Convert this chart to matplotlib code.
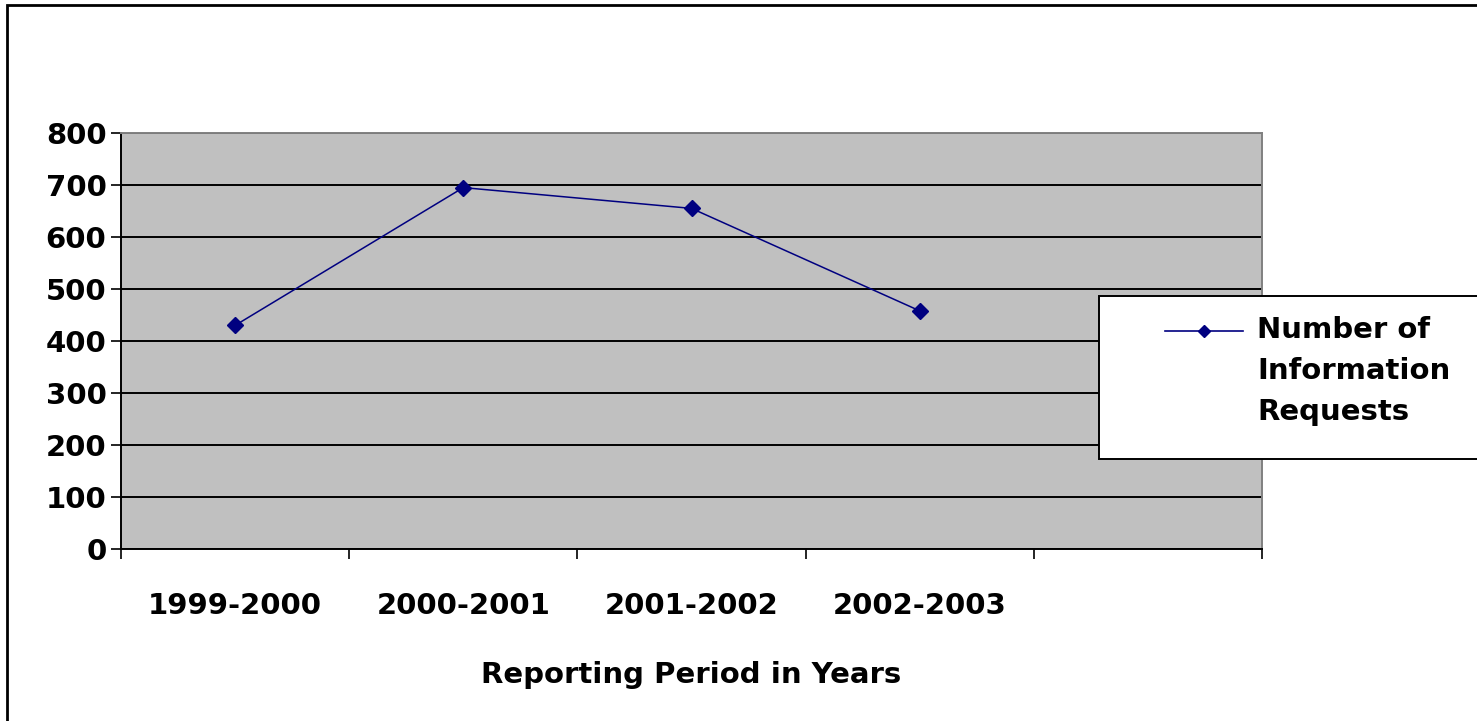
import matplotlib
matplotlib.use("Agg")
import matplotlib.pyplot as plt
import numpy as np
from matplotlib.lines import Line2D
from matplotlib.patches import Rectangle

categories = ["1999-2000", "2000-2001", "2001-2002", "2002-2003"]
requests = [430, 695, 655, 458]
series_name = "Number of\nInformation\nRequests"
y_ticks = [0, 100, 200, 300, 400, 500, 600, 700, 800]
x_title = "Reporting Period in Years"

W, H = 1477, 721
fig = plt.figure(figsize=(W / 100, H / 100), dpi=100)
fig.patch.set_facecolor("white")

def fx(px):
    return px / W

def fy(py):
    return 1 - py / H

ax = fig.add_axes([fx(121), fy(549), fx(1262) - fx(121), fy(133) - fy(549)])
ax.set_facecolor("#C0C0C0")

n_slots = len(categories) + 1
xpos = np.arange(len(categories)) + 0.5
ax.plot(xpos, requests, color="#000080", lw=1.1, marker="D", ms=8.5,
        mfc="#000080", mec="#000080", zorder=5, clip_on=False)

ax.set_xlim(0, n_slots)
ax.set_ylim(0, 800)
ax.set_yticks(y_ticks)
ax.set_yticklabels([str(v) for v in y_ticks])
ax.yaxis.grid(True, color="black", lw=1.4)
ax.set_axisbelow(True)

ax.set_xticks(np.arange(n_slots + 1))
ax.set_xticklabels([])
ax.set_xticks(xpos, minor=True)
ax.set_xticklabels(categories, minor=True)

for lab in ax.get_yticklabels() + ax.get_xticklabels(minor=True):
    lab.set_fontfamily("DejaVu Sans")
    lab.set_fontweight("bold")
    lab.set_fontsize(21)

ax.tick_params(axis="y", which="major", direction="out", length=7, width=1.2,
               pad=3.5, colors="black")
ax.tick_params(axis="x", which="major", direction="out", length=7, width=1.2,
               colors="black")
ax.tick_params(axis="x", which="minor", length=0, pad=31)

for s in ["left", "bottom"]:
    ax.spines[s].set_color("black")
    ax.spines[s].set_linewidth(1.4)
    ax.spines[s].set_zorder(6)
for s in ["top", "right"]:
    ax.spines[s].set_color("#808080")
    ax.spines[s].set_linewidth(1.4)
    ax.spines[s].set_zorder(6)

ax.set_xlabel(x_title, fontfamily="DejaVu Sans", fontweight="bold", fontsize=21)
ax.xaxis.set_label_coords(0.5, -0.27)

# legend (drawn manually so the key lines up with the first text line)
fig.patches.append(Rectangle((fx(1099), fy(459)), fx(1500) - fx(1099), fy(296) - fy(459),
                             transform=fig.transFigure, facecolor="white",
                             edgecolor="black", lw=1.4, zorder=10))
fig.lines.append(Line2D([fx(1165), fx(1243)], [fy(331), fy(331)], transform=fig.transFigure,
                        color="#000080", lw=1.2, zorder=11))
fig.lines.append(Line2D([fx(1204)], [fy(331)], transform=fig.transFigure, color="#000080",
                        marker="D", ms=6, lw=0, zorder=12))
fig.text(fx(1257), fy(316), series_name, ha="left", va="top", fontfamily="DejaVu Sans",
         fontweight="bold", fontsize=21, linespacing=1.58, zorder=12)

# chart area border
fig.patches.append(Rectangle((fx(7), -0.1), 1.2, fy(5) + 0.1, transform=fig.transFigure,
                             fill=False, edgecolor="black", lw=2, zorder=20))

fig.savefig("out.png", dpi=100)
